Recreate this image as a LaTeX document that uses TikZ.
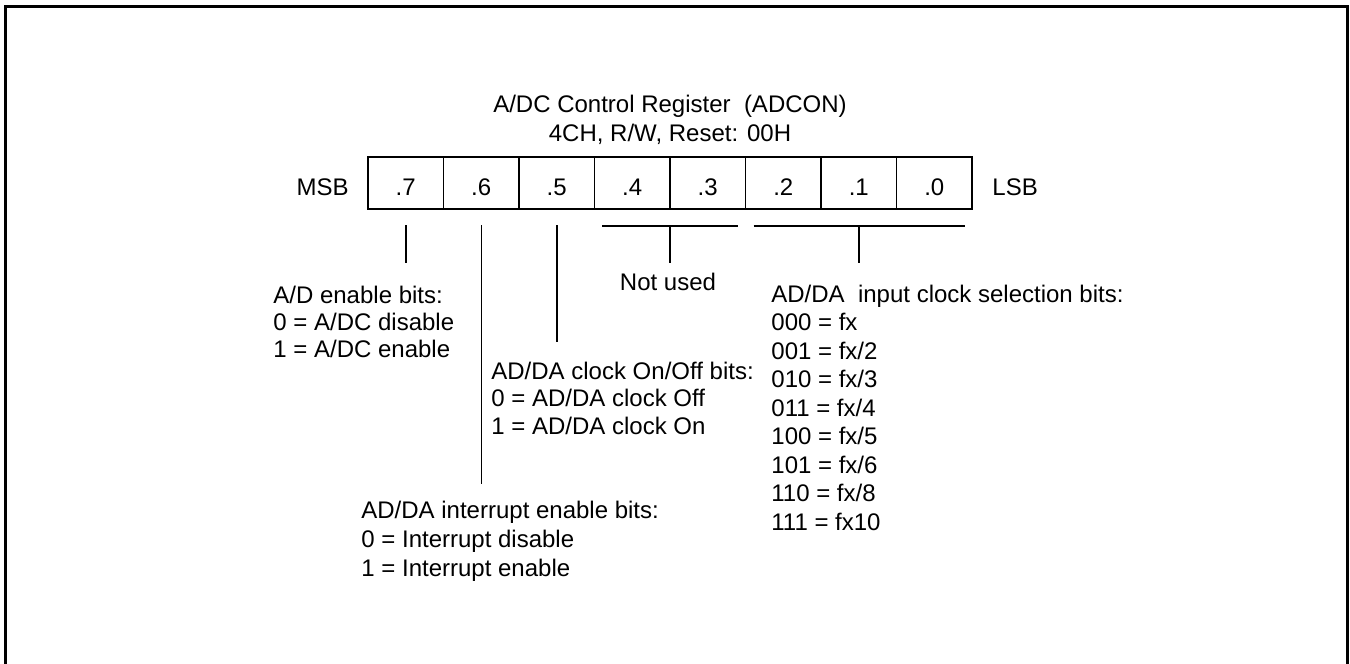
\documentclass[tikz,border=0pt]{standalone}
\usepackage{fontspec}
\setmainfont{Liberation Sans}
\usetikzlibrary{positioning}

\begin{document}
\begin{tikzpicture}[
    x=0.5pt, y=-0.5pt,
    cell/.style={rectangle, draw, line width=0.75pt, outer sep=0pt, minimum width=37.75pt, minimum height=26pt, inner sep=0pt, text height=12pt, text depth=0pt},
    sidelabel/.style={inner sep=0pt, text height=12pt, text depth=0pt},
    tick/.style={line width=0.75pt},
    note/.style={inner sep=0pt, align=left, anchor=north west},
    every node/.style={font=\fontsize{12}{14}\selectfont},
]
\useasboundingbox (0,0) rectangle (1350,664);

% outer frame, open at the bottom
\draw[line width=1.5pt] (5.5,664) -- (5.5,6) -- (1347.5,6) -- (1347.5,664);

\node[inner sep=0pt, align=center, anchor=north, font=\fontsize{12}{14.5}\selectfont] (title) at (670,94.5)
    {A/DC Control Register~~(ADCON)\\4CH, R/W, Reset: 00H};

% register bits
\node[cell, anchor=north west] (b7) at (368,157) {.7};
\node[cell, right=0pt of b7] (b6) {.6};
\node[cell, right=0pt of b6] (b5) {.5};
\node[cell, right=0pt of b5] (b4) {.4};
\node[cell, right=0pt of b4] (b3) {.3};
\node[cell, right=0pt of b3] (b2) {.2};
\node[cell, right=0pt of b2] (b1) {.1};
\node[cell, right=0pt of b1] (b0) {.0};
\node[sidelabel, left=9.5pt of b7] (msb) {MSB};
\node[sidelabel, right=10pt of b0] (lsb) {LSB};

% leader lines
\draw[tick] ([yshift=-8pt]b7.south) -- ++(0,38);
\draw[tick] ([yshift=-8pt]b6.south) -- ++(0,259);
\draw[tick] ([yshift=-8pt]b5.south) -- ++(0,117);
\draw[tick] ([shift={(7.5,17)}]b4.south west) -- ([shift={(-7.5,17)}]b3.south east);
\draw[tick] ([yshift=-8.5pt]b4.south east) -- ++(0,37);
\draw[tick] ([shift={(8,17)}]b2.south west) -- ([shift={(-7,17)}]b0.south east);
\draw[tick] ([yshift=-8.5pt]b1.south) -- ++(0,37);

% descriptions
\node[note, font=\fontsize{12}{13.5}\selectfont] (adenable) at (273,285.5)
    {A/D enable bits:\\0 = A/DC disable\\1 = A/DC enable};
\node[inner sep=0pt, anchor=base] (unused) at (668,290) {Not used};
\node[note, font=\fontsize{12}{13.75}\selectfont] (clkonoff) at (491,361.5)
    {AD/DA clock On/Off bits:\\0 = AD/DA clock Off\\1 = AD/DA clock On};
\node[note, font=\fontsize{12}{14.25}\selectfont] (clksel) at (771,284.5)
    {AD/DA~~input clock selection bits:\\000 = fx\\001 = fx/2\\010 = fx/3\\011 = fx/4\\100 = fx/5\\101 = fx/6\\110 = fx/8\\111 = fx10};
\node[note, font=\fontsize{12}{14.5}\selectfont] (intenable) at (361,500.5)
    {AD/DA interrupt enable bits:\\0 = Interrupt disable\\1 = Interrupt enable};

\end{tikzpicture}
\end{document}
